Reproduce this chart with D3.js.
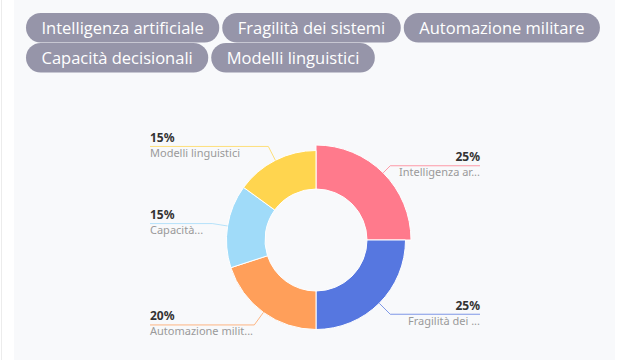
<!DOCTYPE html>
<html><head><meta charset="utf-8">
<script src="https://cdn.jsdelivr.net/npm/d3@7"></script>
<style>
html,body{margin:0;padding:0;background:#fff;}
svg{display:block;}
</style></head>
<body>
<svg id="c" width="620" height="360"></svg>
<script>
const categories = ["Intelligenza artificiale","Fragilità dei sistemi","Automazione militare","Capacità decisionali","Modelli linguistici"];
const values = [25, 25, 20, 15, 15];
const labelTexts = ["Intelligenza ar...","Fragilità dei ...","Automazione milit...","Capacità...","Modelli linguistici"];
const colors = ["#ff7a8c","#5677e0","#ff9f5a","#a0dbf9","#ffd54f"];
const highlighted = 0;

const svg = d3.select("#c");
// background panel
svg.append("rect").attr("x",14).attr("y",0).attr("width",601).attr("height",360).attr("fill","#f8f9fb");
svg.append("line").attr("x1",1.5).attr("x2",1.5).attr("y1",0).attr("y2",360).attr("stroke","#ececec");

// legend pills
const pillH = 29.5, padX = 15.5, gap = 3, startX = 26, maxX = 612;
let x = startX, y = 13;
const lg = svg.append("g");
categories.forEach((c,i)=>{
  const t = lg.append("text").text(c).attr("font-family","'Open Sans'").attr("font-size",16.5).attr("fill","#fff");
  const w = t.node().getComputedTextLength() + padX*2;
  if (x + w > maxX) { x = startX; y += pillH + 0.5; }
  lg.insert("rect","text:last-child").attr("x",x).attr("y",y).attr("width",w).attr("height",pillH)
    .attr("rx",pillH/2).attr("fill","#9695a9");
  t.attr("x",x+padX).attr("y",y+pillH/2).attr("dominant-baseline","central");
  x += w + gap;
});

// donut
const cx = 316, cy = 240, rIn = 51, rOut = 89.5, rEmph = 95, rLab = 105;
const pie = d3.pie().value(d=>d).sort(null);
const arcs = pie(values);
const g = svg.append("g").attr("transform",`translate(${cx},${cy})`);
const arc = d3.arc().innerRadius(rIn);
g.selectAll("path").data(arcs).join("path")
  .attr("d",(d,i)=>arc.outerRadius(i===highlighted?rEmph:rOut)(d))
  .attr("fill",(d,i)=>colors[i]).attr("stroke","#fff").attr("stroke-width",1);

const leftEdge = 150, rightEdge = 480;
const tot = d3.sum(values);
arcs.forEach((d,i)=>{
  const a = (d.startAngle+d.endAngle)/2;
  const r0 = i===highlighted?rEmph:rOut;
  const sx = Math.sin(a), sy = -Math.cos(a);
  const p0 = [cx+sx*r0, cy+sy*r0], p1 = [cx+sx*rLab, cy+sy*rLab];
  const right = sx > 0;
  const ex = right ? rightEdge : leftEdge;
  svg.append("polyline").attr("points",[p0,p1,[ex,p1[1]]].map(p=>p.join(",")).join(" "))
    .attr("fill","none").attr("stroke",colors[i]).attr("stroke-opacity",0.75).attr("stroke-width",1);
  const anchor = right ? "end" : "start";
  svg.append("text").attr("x",ex).attr("y",p1[1]-4.5).attr("text-anchor",anchor)
    .attr("font-family","'Noto Sans'").attr("font-size",12).attr("font-weight","bold").attr("fill","#333")
    .text(Math.round(d.data/tot*100)+"%");
  svg.append("text").attr("x",ex).attr("y",p1[1]+10.5).attr("text-anchor",anchor)
    .attr("font-family","'Noto Sans'").attr("font-size",11).attr("fill","#9a9a9a")
    .text(labelTexts[i]);
});
</script>
</body></html>
